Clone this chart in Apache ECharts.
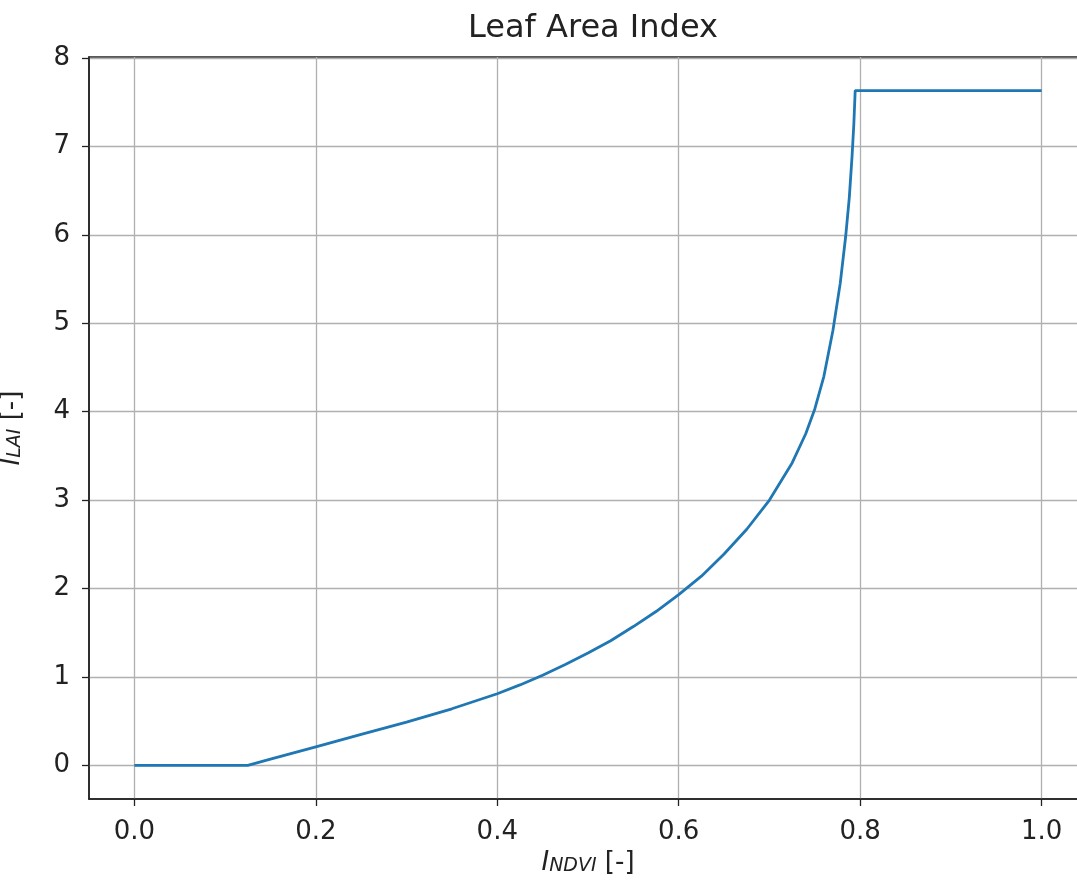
<!DOCTYPE html>
<html>
<head>
<meta charset="utf-8">
<script src="https://cdn.jsdelivr.net/npm/echarts@6/dist/echarts.min.js"></script>
<style>
html,body{margin:0;padding:0;background:#fff;}
#c{width:1077px;height:889px;}
</style>
</head>
<body>
<div id="c"></div>
<script>
// Data
const ndvi = [0, 0.125, 0.15, 0.2, 0.25, 0.3, 0.35, 0.4, 0.425, 0.45, 0.475, 0.5, 0.525, 0.55, 0.575, 0.6, 0.625, 0.65, 0.675, 0.7, 0.725, 0.74, 0.75, 0.76, 0.77, 0.778, 0.784, 0.788, 0.791, 0.793, 0.7945, 1.0];
const lai  = [0, 0, 0.07, 0.21, 0.35, 0.49, 0.64, 0.81, 0.91, 1.02, 1.14, 1.27, 1.41, 1.57, 1.74, 1.93, 2.14, 2.39, 2.67, 3.0, 3.42, 3.75, 4.03, 4.4, 4.92, 5.45, 5.98, 6.42, 6.88, 7.25, 7.63, 7.63];
const xTicks = [0, 0.2, 0.4, 0.6, 0.8, 1.0];
const yTicks = [0, 1, 2, 3, 4, 5, 6, 7, 8];

const FONT = 'DejaVu Sans';
const richName = {
  i: {fontFamily: FONT, fontSize: 26, fontStyle: 'italic', color: '#222', verticalAlign: 'bottom', lineHeight: 30},
  s: {fontFamily: FONT, fontSize: 19, fontStyle: 'italic', color: '#222', verticalAlign: 'bottom', lineHeight: 22},
  n: {fontFamily: FONT, fontSize: 26, color: '#222', verticalAlign: 'bottom', lineHeight: 30}
};
const chart = echarts.init(document.getElementById('c'), null, {renderer: 'canvas'});
chart.setOption({
  animation: false,
  backgroundColor: '#fff',
  title: {
    text: 'Leaf Area Index',
    left: 588, top: 8, textAlign: 'center',
    textStyle: {fontFamily: FONT, fontSize: 32, fontWeight: 'normal', color: '#222'}
  },
  grid: {left: 89, top: 57, width: 998, height: 742, outerBoundsMode: 'none', containLabel: false,
         show: true, borderColor: '#222', borderWidth: 1.5, backgroundColor: 'transparent'},
  xAxis: {
    type: 'value', min: -0.05, max: 1.05,
    name: '{i|I}{s|NDVI}{n| [-]}',
    nameLocation: 'middle', nameGap: 47,
    nameTextStyle: {rich: richName},
    axisLine: {show: true, onZero: false, lineStyle: {color: '#222', width: 1.5}},
    axisTick: {show: true, length: 7, customValues: xTicks, lineStyle: {color: '#222', width: 1.3}},
    axisLabel: {customValues: xTicks, margin: 20, fontFamily: FONT, fontSize: 26, color: '#222', formatter: v => v.toFixed(1)},
    splitLine: {show: true, lineStyle: {color: '#b0b0b0', width: 1.3}}
  },
  yAxis: {
    type: 'value', min: -0.38, max: 8.01,
    name: '{i|I}{s|LAI}{n| [-]}',
    nameLocation: 'middle', nameGap: 64, nameRotate: 90,
    nameTextStyle: {rich: richName},
    axisLine: {show: true, onZero: false, lineStyle: {color: '#222', width: 1.5}},
    axisTick: {show: true, length: 7, customValues: yTicks, lineStyle: {color: '#222', width: 1.3}},
    axisLabel: {customValues: yTicks, margin: 19, fontFamily: FONT, fontSize: 26, color: '#222'},
    splitLine: {show: true, lineStyle: {color: '#b0b0b0', width: 1.3}}
  },
  series: [{
    type: 'line',
    data: ndvi.map((x, i) => [x, lai[i]]),
    showSymbol: false,
    smooth: false,
    lineStyle: {color: '#1f77b4', width: 2.8},
    itemStyle: {color: '#1f77b4'}
  }]
});
</script>
</body>
</html>
